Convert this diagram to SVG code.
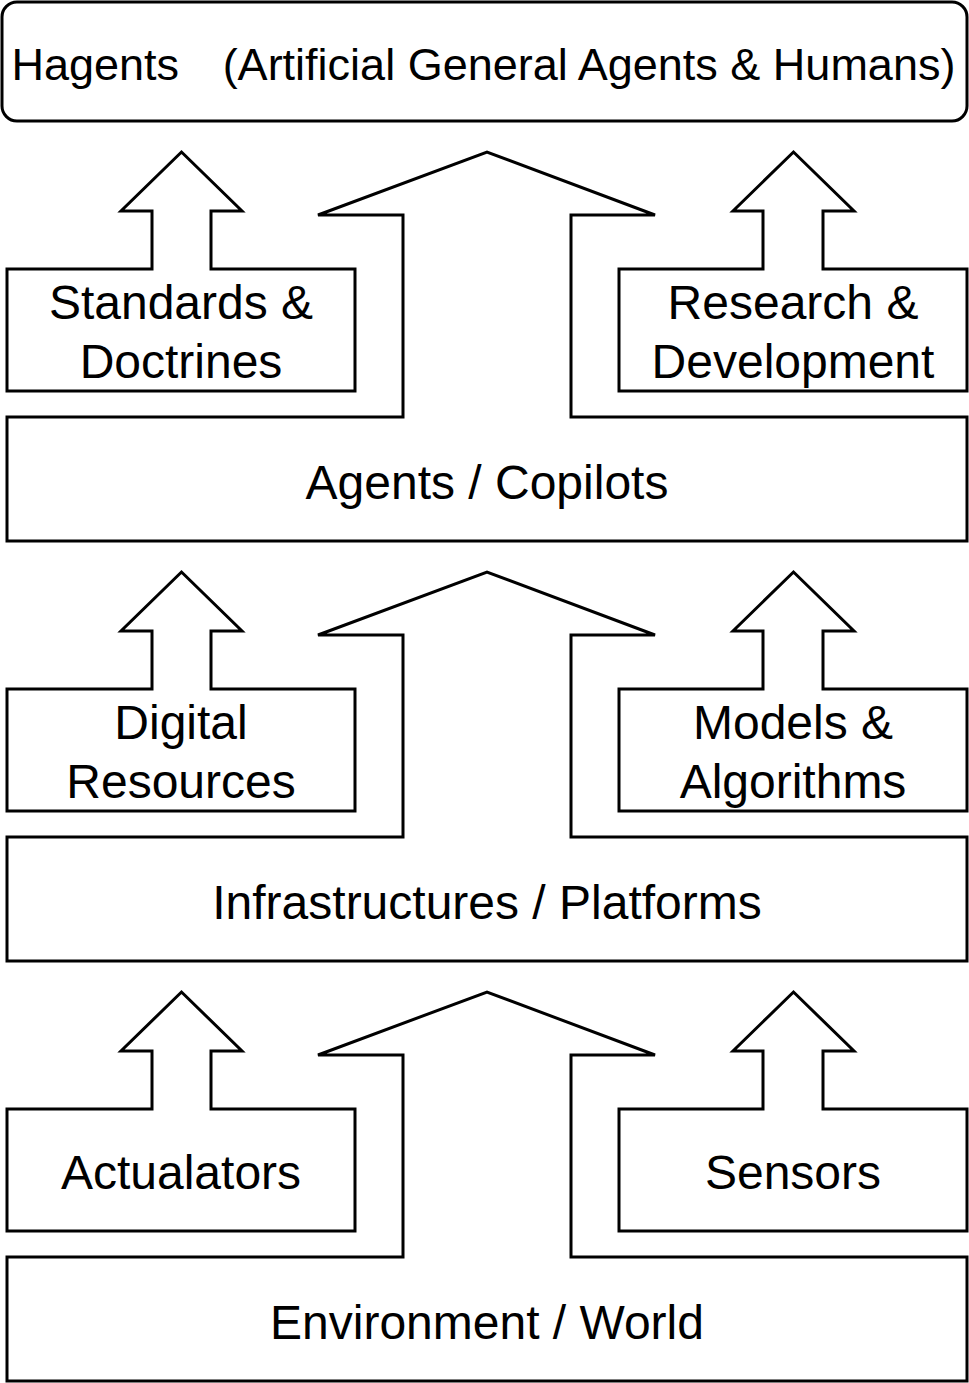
<svg xmlns="http://www.w3.org/2000/svg" width="969" height="1383" viewBox="0 0 969 1383">
  <style>
    .shape { fill: #ffffff; stroke: #000000; stroke-width: 3; stroke-linejoin: miter; }
    .lbl { font-family: "Liberation Sans", Arial, sans-serif; font-size: 48px; fill: #000000; text-anchor: middle; }
    .hdr { font-family: "Liberation Sans", Arial, sans-serif; font-size: 45px; fill: #000000; }
  </style>
  <rect width="969" height="1383" fill="#ffffff"/>

  <g id="hagents">
    <rect class="shape" x="2" y="2" width="965" height="119" rx="15" ry="15"/>
    <text class="hdr" x="11.5" y="79.5" xml:space="preserve">Hagents <tspan dx="31">(Artificial General Agents &amp; Humans)</tspan></text>
  </g>

  <!-- Layer 1 -->
  <g id="standards-doctrines">
    <polygon class="shape" points="7,391 7,269 152,269 152,211 121,211 181.5,152 242,211 211,211 211,269 355,269 355,391"/>
    <text class="lbl" x="181" y="319">Standards &amp;</text>
    <text class="lbl" x="181" y="378">Doctrines</text>
  </g>
  <g id="research-development">
    <polygon class="shape" points="619,391 619,269 763,269 763,211 733,211 793.5,152 854,211 823,211 823,269 967,269 967,391"/>
    <text class="lbl" x="793" y="319">Research &amp;</text>
    <text class="lbl" x="793" y="378">Development</text>
  </g>
  <g id="agents-copilots">
    <polygon class="shape" points="7,417 403,417 403,215 318,215 487,152 655,215 571,215 571,417 967,417 967,541 7,541"/>
    <text class="lbl" x="487" y="498.5">Agents / Copilots</text>
  </g>

  <!-- Layer 2 -->
  <g id="digital-resources">
    <polygon class="shape" points="7,811 7,689 152,689 152,631 121,631 181.5,572 242,631 211,631 211,689 355,689 355,811"/>
    <text class="lbl" x="181" y="739">Digital</text>
    <text class="lbl" x="181" y="798">Resources</text>
  </g>
  <g id="models-algorithms">
    <polygon class="shape" points="619,811 619,689 763,689 763,631 733,631 793.5,572 854,631 823,631 823,689 967,689 967,811"/>
    <text class="lbl" x="793" y="739">Models &amp;</text>
    <text class="lbl" x="793" y="798">Algorithms</text>
  </g>
  <g id="infrastructures-platforms">
    <polygon class="shape" points="7,837 403,837 403,635 318,635 487,572 655,635 571,635 571,837 967,837 967,961 7,961"/>
    <text class="lbl" x="487" y="918.5">Infrastructures / Platforms</text>
  </g>

  <!-- Layer 3 -->
  <g id="actualators">
    <polygon class="shape" points="7,1231 7,1109 152,1109 152,1051 121,1051 181.5,992 242,1051 211,1051 211,1109 355,1109 355,1231"/>
    <text class="lbl" x="181" y="1188.5">Actualators</text>
  </g>
  <g id="sensors">
    <polygon class="shape" points="619,1231 619,1109 763,1109 763,1051 733,1051 793.5,992 854,1051 823,1051 823,1109 967,1109 967,1231"/>
    <text class="lbl" x="793" y="1188.5">Sensors</text>
  </g>
  <g id="environment-world">
    <polygon class="shape" points="7,1257 403,1257 403,1055 318,1055 487,992 655,1055 571,1055 571,1257 967,1257 967,1381 7,1381"/>
    <text class="lbl" x="487" y="1338.5">Environment / World</text>
  </g>
</svg>
